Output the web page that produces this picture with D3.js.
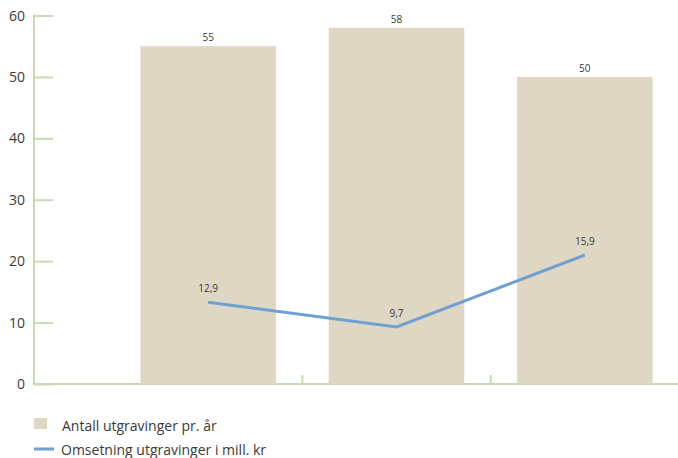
<!DOCTYPE html>
<html>
<head>
<meta charset="utf-8">
<script src="https://cdn.jsdelivr.net/npm/d3@7"></script>
<style>
  body { margin: 0; background: #fff; }
  text { font-family: "Open Sans", Roboto, sans-serif; fill: #3a3a3a; }
</style>
</head>
<body>
<script>
'use strict';

var categories = ['A', 'B', 'C'];
var barValues = [55, 58, 50];
// line points as they sit in the picture, with the labels printed next to them
var lineValues = [13.3, 9.3, 21.0];
var lineLabels = ['12,9', '9,7', '15,9'];
var yTicks = [0, 10, 20, 30, 40, 50, 60];
var legendLabels = ['Antall utgravinger pr. år', 'Omsetning utgravinger i mill. kr'];

var width = 678, height = 458;
var axisColor = '#c9d9b3', barColor = '#ded7c4', lineColor = '#709fd2';

var svg = d3.select('body').append('svg')
	.attr('width', width)
	.attr('height', height);

var x = d3.scaleBand()
	.domain(categories)
	.range([114, 679])
	.paddingInner(0.28)
	.paddingOuter(0.14);

var y = d3.scaleLinear()
	.domain([0, 60])
	.range([384, 15.5]);

// bottom axis line
svg.append('line')
	.attr('x1', 34).attr('x2', width)
	.attr('y1', y(0)).attr('y2', y(0))
	.attr('stroke', axisColor).attr('stroke-width', 2);

// category separators
svg.selectAll('.sep')
	.data(categories.slice(1))
	.enter().append('line')
	.attr('x1', function (d) { return x(d) - x.step() * x.paddingInner() / 2; })
	.attr('x2', function (d) { return x(d) - x.step() * x.paddingInner() / 2; })
	.attr('y1', y(0)).attr('y2', y(0) - 9)
	.attr('stroke', axisColor).attr('stroke-width', 2);

// left axis
var yAxis = svg.append('g')
	.attr('transform', 'translate(34,0)')
	.call(d3.axisRight(y).tickValues(yTicks).tickSize(19).tickFormat(''));
yAxis.select('.domain').remove();
yAxis.selectAll('line').attr('stroke', axisColor).attr('stroke-width', 2);
svg.append('line')
	.attr('x1', 34).attr('x2', 34)
	.attr('y1', y(60) - 1).attr('y2', y(0) + 1)
	.attr('stroke', axisColor).attr('stroke-width', 2);

svg.selectAll('.ytick')
	.data(yTicks)
	.enter().append('text')
	.attr('x', 25)
	.attr('y', function (d) { return y(d) + 5; })
	.attr('text-anchor', 'end')
	.style('font-size', '14px')
	.text(function (d) { return d; });

// bars
svg.selectAll('.bar')
	.data(barValues)
	.enter().append('rect')
	.attr('x', function (d, i) { return x(categories[i]); })
	.attr('width', x.bandwidth())
	.attr('y', function (d) { return y(d); })
	.attr('height', function (d) { return y(0) - y(d); })
	.attr('fill', barColor);

svg.selectAll('.barlabel')
	.data(barValues)
	.enter().append('text')
	.attr('x', function (d, i) { return x(categories[i]) + x.bandwidth() / 2; })
	.attr('y', function (d) { return y(d) - 5; })
	.attr('text-anchor', 'middle')
	.style('font-size', '10px')
	.text(function (d) { return d; });

// line
var line = d3.line()
	.x(function (d, i) { return x(categories[i]) + x.bandwidth() / 2; })
	.y(function (d) { return y(d); });

svg.append('path')
	.datum(lineValues)
	.attr('d', line)
	.attr('fill', 'none')
	.attr('stroke', lineColor)
	.attr('stroke-width', 3);

svg.selectAll('.linelabel')
	.data(lineValues)
	.enter().append('text')
	.attr('x', function (d, i) { return x(categories[i]) + x.bandwidth() / 2; })
	.attr('y', function (d) { return y(d) - 10; })
	.attr('text-anchor', 'middle')
	.style('font-size', '10px')
	.text(function (d, i) { return lineLabels[i]; });

// legend
svg.append('rect')
	.attr('x', 34).attr('y', 418)
	.attr('width', 13).attr('height', 11)
	.attr('fill', barColor);
svg.append('text')
	.attr('x', 62).attr('y', 431)
	.style('font-size', '14px')
	.text(legendLabels[0]);

svg.append('line')
	.attr('x1', 34).attr('x2', 54)
	.attr('y1', 449).attr('y2', 449)
	.attr('stroke', lineColor).attr('stroke-width', 3);
svg.append('text')
	.attr('x', 61).attr('y', 455)
	.style('font-size', '14px')
	.text(legendLabels[1]);
</script>
</body>
</html>
